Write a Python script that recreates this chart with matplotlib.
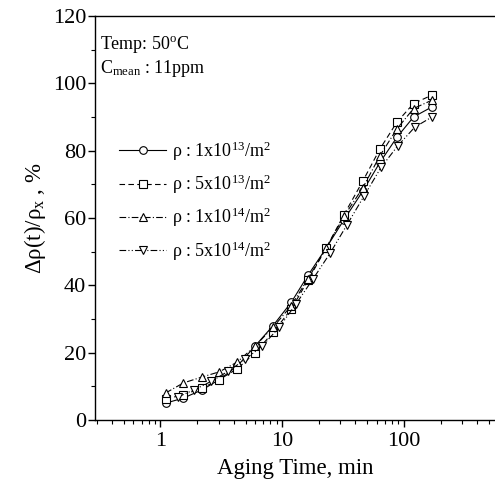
import matplotlib
matplotlib.use("Agg")
import matplotlib.pyplot as plt
from matplotlib.ticker import LogLocator, NullFormatter, FixedLocator

plt.rcParams["font.family"] = "Liberation Serif"
plt.rcParams["mathtext.fontset"] = "custom"
plt.rcParams["mathtext.rm"] = "Liberation Serif"
plt.rcParams["mathtext.it"] = "Liberation Serif:italic"

# Données
t_a = [1.10, 1.54, 2.21, 3.04, 4.27, 6.0, 8.4, 11.9, 16.3, 22.9, 32.2, 46, 63.5, 87.7, 120, 170]
t_b = [1.38, 1.90, 2.62, 3.61, 4.97, 6.86, 9.45, 13.0, 18.0, 24.7, 34.1, 47.0, 64.8, 89.3, 123, 170]

r_1e13 = [5, 6.5, 9, 12, 16, 22, 28, 35, 43, 51, 59.5, 68, 76.5, 84, 90, 93]
r_5e13 = [6.2, 7.5, 9.5, 12, 15.2, 20, 26, 33, 41.5, 51, 61, 71, 80.5, 88.5, 94, 96.5]
r_1e14 = [8, 11, 12.8, 14.3, 17.2, 22, 27.5, 34, 42, 51, 60.5, 69, 78.5, 86.5, 92.5, 95]
r_5e14 = [6.8, 9, 11.5, 14.5, 18, 22, 27.5, 34.5, 42, 49.5, 58, 66.5, 75, 81.5, 87, 90]

labels = [r"ρ : 1x10$^{\rm 13}$/m$^{\rm 2}$", r"ρ : 5x10$^{\rm 13}$/m$^{\rm 2}$",
          r"ρ : 1x10$^{\rm 14}$/m$^{\rm 2}$", r"ρ : 5x10$^{\rm 14}$/m$^{\rm 2}$"]

fig = plt.figure(figsize=(4.95, 4.87), dpi=100)
ax = fig.add_axes([0.192, 0.1376, 0.808, 0.8296])

mk = dict(markersize=5.5, markerfacecolor="white", markeredgecolor="black",
          markeredgewidth=0.8, color="black", linewidth=0.8)
ax.plot(t_a, r_1e13, "o", linestyle="-", label=labels[0], **mk)
ax.plot(t_a, r_5e13, "s", linestyle=(0, (5, 3)), label=labels[1], **mk)
ax.plot(t_a, r_1e14, "^", linestyle=(0, (6, 2, 1, 2)), label=labels[2], **mk)
ax.plot(t_b, r_5e14, "v", linestyle=(0, (6, 2, 1, 2, 1, 2)), label=labels[3], **mk)

ax.set_xscale("log")
ax.set_xlim(0.29, 560)
ax.set_ylim(0, 120)
ax.yaxis.set_major_locator(FixedLocator([0, 20, 40, 60, 80, 100, 120]))
ax.yaxis.set_minor_locator(FixedLocator([10, 30, 50, 70, 90, 110]))
ax.xaxis.set_minor_locator(LogLocator(base=10, subs=range(2, 10), numticks=20))
ax.xaxis.set_minor_formatter(NullFormatter())
ax.set_xticks([1, 10, 100])
ax.set_xticklabels(["1", "10", "100"])

ax.spines["right"].set_visible(False)
for s in ["left", "bottom", "top"]:
    ax.spines[s].set_linewidth(1.0)
ax.tick_params(axis="both", which="major", direction="out", length=5, width=1, labelsize=16)
ax.tick_params(axis="y", which="major", pad=1.5)
ax.tick_params(axis="both", which="minor", direction="out", length=3, width=0.8)
ax.tick_params(axis="x", which="both", top=False)

ax.set_xlabel("Aging Time, min", fontsize=16.5, labelpad=5)
ax.set_ylabel(r"Δρ(t)/ρ$_{\rm x}$ , %", fontsize=16.5, labelpad=3)

ax.text(0.012, 0.955, r"Temp: 50$^{\rm o}$C", transform=ax.transAxes, fontsize=13, va="top")
ax.text(0.012, 0.895, r"C$_{\rm mean}$ : 11ppm", transform=ax.transAxes, fontsize=13, va="top")

ax.legend(loc="upper left", bbox_to_anchor=(0.02, 0.735), frameon=False, fontsize=13,
          handlelength=2.6, labelspacing=0.55, handletextpad=0.3)

fig.savefig("out.png", dpi=100)
